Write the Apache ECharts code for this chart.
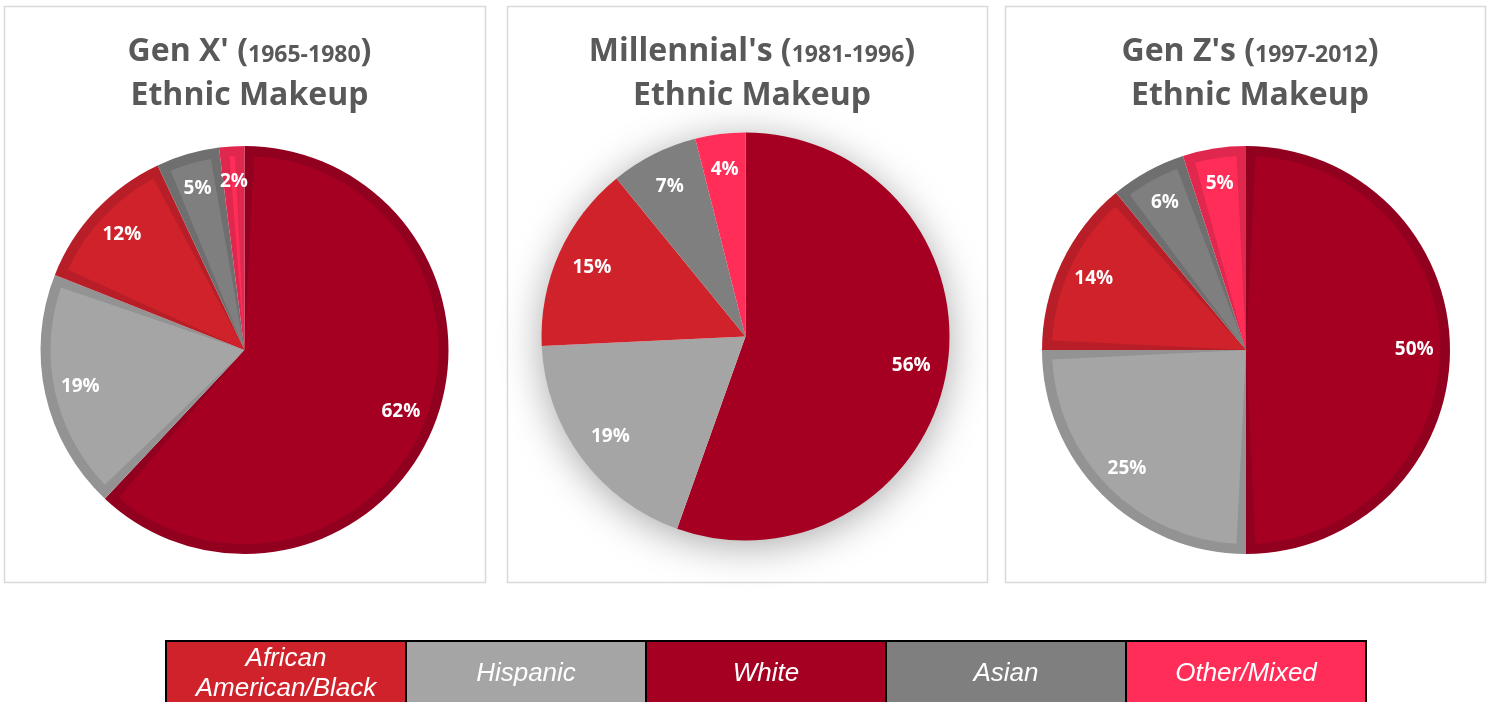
<!DOCTYPE html>
<html>
<head>
<meta charset="utf-8">
<script src="https://cdn.jsdelivr.net/npm/echarts@6/dist/echarts.min.js"></script>
<style>
html,body{margin:0;padding:0;background:#fff;}
#c{width:1489px;height:702px;}
</style>
</head>
<body>
<div id="c"></div>
<script>
// ---- data ----
const categories = ['White', 'Hispanic', 'African American/Black', 'Asian', 'Other/Mixed'];
const genXValues = [62, 19, 12, 5, 2];
const millennialValues = [56, 19, 15, 7, 4];
const genZValues = [50, 25, 14, 6, 5];
const panelTitles = ["Gen X' (", "Millennial's (", "Gen Z's ("];
const panelYears = ['1965-1980', '1981-1996', '1997-2012'];
const legendOrder = ['African American/Black', 'Hispanic', 'White', 'Asian', 'Other/Mixed'];
const legendText = ['African\nAmerican/Black', 'Hispanic', 'White', 'Asian', 'Other/Mixed'];

// ---- styles ----
const fillColors = {
  'White': '#a50021', 'Hispanic': '#a5a5a5', 'African American/Black': '#d0222b',
  'Asian': '#7f7f7f', 'Other/Mixed': '#ff2d58'
};
const edgeColors = {
  'White': '#920020', 'Hispanic': '#939393', 'African American/Black': '#b81e28',
  'Asian': '#6f6f6f', 'Other/Mixed': '#e0284f'
};
const panels = [
  {x: 4, y: 6, w: 481, h: 576, cx: 244.5, cy: 350, bordered: true, values: genXValues},
  {x: 507, y: 6, w: 480, h: 576, cx: 745.5, cy: 336.5, bordered: false, values: millennialValues},
  {x: 1005, y: 6, w: 480, h: 576, cx: 1246, cy: 350, bordered: true, values: genZValues}
];
const R = 204;
const BORDER = 10;

const chart = echarts.init(document.getElementById('c'), null, {renderer: 'canvas'});

const series = [];
const titles = [];
const graphics = [];

panels.forEach((p, i) => {
  graphics.push({
    type: 'rect', z: 0,
    shape: {x: p.x + 0.5, y: p.y + 0.5, width: p.w, height: p.h},
    style: {fill: 'none', stroke: '#d9d9d9', lineWidth: 1.5}
  });
  titles.push({
    text: '{a|' + panelTitles[i] + '}{b|' + panelYears[i] + '}{a|)}\n{a|Ethnic Makeup}',
    left: p.x + p.w / 2, top: 25, textAlign: 'center',
    textStyle: {
      rich: {
        a: {fontFamily: '"Open Sans"', fontWeight: 'bold', fontSize: 32, color: '#595959', lineHeight: 44},
        b: {fontFamily: '"Open Sans"', fontWeight: 'bold', fontSize: 23, color: '#595959', lineHeight: 38, padding: [6, 0, 0, 0]}
      }
    }
  });
  const base = categories.map((c, k) => ({name: c, value: p.values[k]}));
  if (p.bordered) {
    series.push({
      type: 'pie', center: [p.cx, p.cy], radius: [0, R], startAngle: 90, clockwise: true,
      silent: true, label: {show: false}, labelLine: {show: false}, z: 2,
      data: base.map(d => ({name: d.name, value: d.value, itemStyle: {color: edgeColors[d.name]}}))
    });
    series.push({
      type: 'pie', center: [p.cx, p.cy], radius: [0, R - BORDER], startAngle: 90, clockwise: true,
      padAngle: 5.6, silent: true, label: {show: false}, labelLine: {show: false}, z: 3,
      data: base.map(d => ({name: d.name, value: d.value, itemStyle: {color: fillColors[d.name]}}))
    });
  } else {
    // soft shadow disc behind the pie
    series.push({
      type: 'pie', center: [p.cx, p.cy], radius: [0, R - 1], silent: true,
      label: {show: false}, labelLine: {show: false}, z: 1,
      itemStyle: {color: '#ffffff', shadowBlur: 40, shadowOffsetY: 6, shadowColor: 'rgba(0,0,0,0.35)'},
      data: [{name: 'shadow', value: 1}]
    });
    series.push({
      type: 'pie', center: [p.cx, p.cy], radius: [0, R], startAngle: 90, clockwise: true,
      silent: true, label: {show: false}, labelLine: {show: false}, z: 2,
      data: base.map(d => ({name: d.name, value: d.value, itemStyle: {color: fillColors[d.name]}}))
    });
  }
  // label carrier
  series.push({
    type: 'pie', center: [p.cx, p.cy], radius: [R * 0.62, R], startAngle: 90, clockwise: true,
    silent: true, z: 5,
    itemStyle: {color: 'rgba(0,0,0,0)'},
    labelLine: {show: false},
    label: {
      show: true, position: 'inside', formatter: '{c}%', color: '#fff',
      fontFamily: '"Open Sans"', fontWeight: 'bold', fontSize: 19
    },
    data: base.map(d => ({name: d.name, value: d.value}))
  });
});

// legend table
legendOrder.forEach((name, i) => {
  const x = 166 + 240 * i;
  graphics.push({
    type: 'rect', z: 10,
    shape: {x: x, y: 641, width: 240, height: 80},
    style: {fill: fillColors[name], stroke: '#000', lineWidth: 2}
  });
  graphics.push({
    type: 'text', z: 11,
    x: x + 120, y: 674,
    style: {
      text: legendText[i], fill: '#fff', align: 'center', verticalAlign: 'middle',
      font: 'italic 26px "Liberation Sans"', lineHeight: 30
    }
  });
});

chart.setOption({
  animation: false,
  backgroundColor: '#fff',
  title: titles,
  graphic: graphics,
  series: series
});
</script>
</body>
</html>
